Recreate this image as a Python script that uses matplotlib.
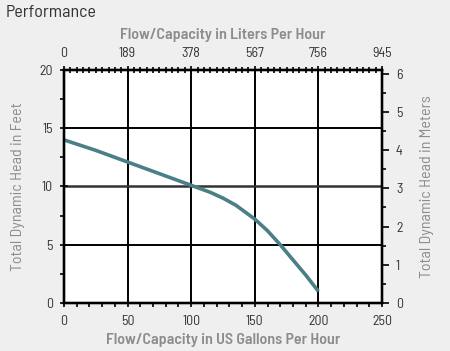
import matplotlib.pyplot as plt
from matplotlib.ticker import MultipleLocator

plt.rcParams['font.family'] = ['Barlow Semi Condensed', 'Liberation Sans', 'DejaVu Sans']

# performance curve (US gallons per hour -> feet of head)
gph = [0, 25, 50, 75, 100, 115, 125, 135, 150, 160, 170, 180, 190, 200]
head_ft = [14.0, 13.1, 12.1, 11.1, 10.1, 9.5, 9.0, 8.4, 7.2, 6.2, 5.0, 3.7, 2.4, 1.0]

gph_ticks = [0, 50, 100, 150, 200, 250]
lph_labels = ["0", "189", "378", "567", "756", "945"]
ft_ticks = [0, 5, 10, 15, 20]
m_ticks = [0, 1, 2, 3, 4, 5, 6]

LINE = "#4b7f87"
LABEL = "#8c8c8c"
TICK = "#333333"

fig = plt.figure(figsize=(4.5, 3.51), dpi=100)
fig.patch.set_facecolor("#efefef")
ax = fig.add_axes([0.1422, 0.1368, 0.7067, 0.6638])
ax.set_facecolor("white")

ax.set_xlim(0, 250)
ax.set_ylim(0, 20)

for x in gph_ticks[1:-1]:
    ax.axvline(x, color="black", lw=1.4, zorder=1)
for y in ft_ticks[1:-1]:
    ax.axhline(y, color="#333333" if y == 10 else "black", lw=1.8 if y == 10 else 1.4, zorder=1)

ax.plot(gph, head_ft, color=LINE, lw=2.6, solid_capstyle="butt", zorder=3)

ax.set_xticks(gph_ticks)
ax.xaxis.set_minor_locator(MultipleLocator(10))
ax.set_yticks(ft_ticks)
ax.yaxis.set_minor_locator(MultipleLocator(2.5))
ax.tick_params(which="major", direction="inout", length=6, width=1.2, labelsize=10, colors="black", labelcolor=TICK)
ax.tick_params(axis="x", which="major", pad=6)
ax.tick_params(axis="y", which="major", pad=5)
ax.tick_params(which="minor", direction="out", length=3, width=1.2, colors="black")
for s in ax.spines.values():
    s.set_linewidth(1.6)

ax.set_xlabel("Flow/Capacity in US Gallons Per Hour", fontsize=11.5, color=LABEL, fontweight="semibold", labelpad=3)
ax.set_ylabel("Total Dynamic Head in Feet", fontsize=11.5, color=LABEL, labelpad=10)

# top axis: liters per hour, same positions as gallons
top = ax.twiny()
top.set_xlim(ax.get_xlim())
top.set_xticks(gph_ticks)
top.set_xticklabels(lph_labels)
top.xaxis.set_minor_locator(MultipleLocator(5))
top.tick_params(which="major", direction="inout", length=6, width=1.2, labelsize=10, labelcolor=TICK, pad=4)
top.tick_params(which="minor", direction="inout", length=4, width=1.2)
top.set_xlabel("Flow/Capacity in Liters Per Hour", fontsize=11.5, color=LABEL, fontweight="semibold", labelpad=6)

# right axis: meters
right = ax.twinx()
right.set_ylim(0, 20 * 0.3048)
right.set_yticks(m_ticks)
right.yaxis.set_minor_locator(MultipleLocator(0.5))
right.tick_params(which="major", direction="out", length=5, width=1.2, labelsize=10, labelcolor=TICK, pad=5)
right.tick_params(which="minor", direction="out", length=3, width=1.2)
right.set_ylabel("Total Dynamic Head in Meters", fontsize=11.5, color=LABEL, labelpad=12)
for a in (top, right):
    for s in a.spines.values():
        s.set_linewidth(1.6)

fig.text(0.012, 0.965, "Performance", fontsize=13, color="#333333", va="center", ha="left")

fig.savefig("out.png", dpi=100, facecolor=fig.get_facecolor())
